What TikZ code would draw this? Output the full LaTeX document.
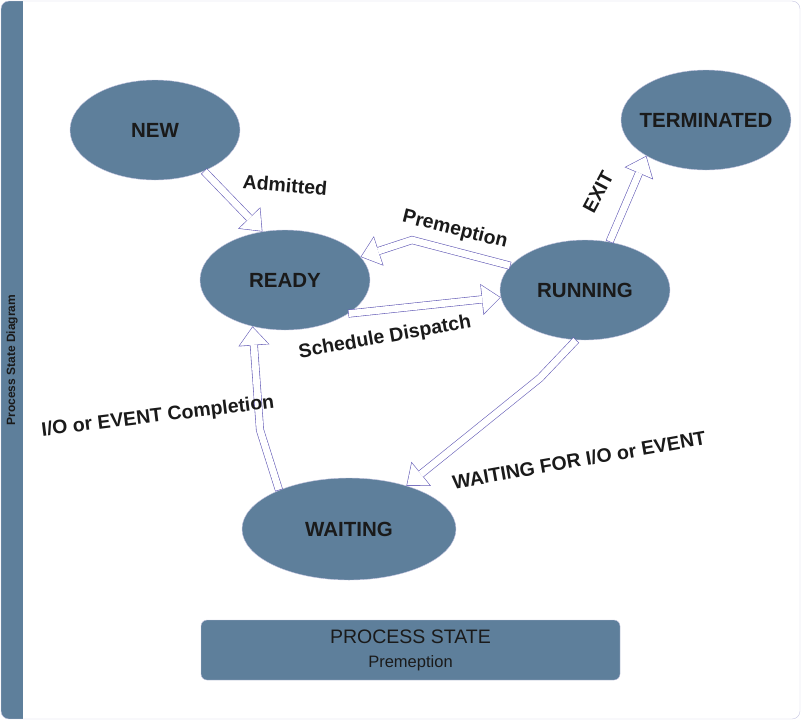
\documentclass[tikz,border=0pt]{standalone}
\usepackage{fontspec}
\setmainfont{Liberation Sans}
\usetikzlibrary{shapes.geometric,arrows.meta}

\definecolor{slate}{RGB}{94,127,155}
\definecolor{rim}{RGB}{196,196,224}
\definecolor{arrowline}{RGB}{104,96,184}
\definecolor{ink}{RGB}{26,26,26}

% hollow block arrow: purple rim first, white core on top
\newcommand{\hollowarrow}[1]{%
  \draw[arrowrim] #1;
  \draw[arrowcore] #1;}

\begin{document}
\begin{tikzpicture}[x=1pt,y=-1pt,
  state/.style = {draw=rim, line width=0.4pt, fill=slate, ellipse, text=ink, minimum width=170pt, minimum height=100pt, font=\fontsize{20.5}{24}\selectfont\bfseries},
  lbl/.style = {text=ink, font=\fontsize{19.5}{23}\selectfont\bfseries},
  arrowrim/.style = {draw=arrowline, line width=8pt, -{Triangle[width=31pt,length=19pt,line width=0pt]}},
  arrowcore/.style = {draw=white, line width=6.8pt, shorten <=0.6pt, shorten >=0.95pt, -{Triangle[width=28.5pt,length=17.45pt,line width=0pt]}}]
\useasboundingbox (0,0) rectangle (801,721);

% frame and side band
\begin{scope}
\clip[rounded corners=8pt] (1,1) rectangle (800,719);
\fill[slate] (1,1) rectangle (23,719);
\end{scope}
\draw[rim, rounded corners=8pt] (1,1) rectangle (800,719);
\node[rotate=90, text=ink, font=\fontsize{12}{14}\selectfont\bfseries] (band) at (12,360) {Process State Diagram};

% states
\node[state] (new) at (155,130) {NEW};
\node[state] (terminated) at (706,120) {\makebox[0pt]{TERMINATED}};
\node[state] (ready) at (285,280) {READY};
\node[state] (running) at (585,290) {RUNNING};
\node[state, minimum width=214pt, minimum height=102pt] (waiting) at (349,529) {WAITING};

\node[draw=rim, fill=slate, rounded corners=6pt, minimum width=419pt, minimum height=60pt, align=center, text=ink, font=\fontsize{19.5}{24}\selectfont] (legend) at (410.5,650) {PROCESS STATE\\{\fontsize{16.5}{19}\selectfont Premeption}};

% bends
\coordinate (preemptbend) at (412,240);
\coordinate (completebend) at (260,430);
\coordinate (waitbend) at (540,378);

% transitions
\hollowarrow{(new.-40) -- (ready.115)}
\hollowarrow{(running.162) -- (preemptbend) -- (ready.17)}
\hollowarrow{(ready.-28) -- (running.185)}
\hollowarrow{(running.63) -- (terminated.211)}
\hollowarrow{(waiting.151) -- (completebend) -- (ready.235)}
\hollowarrow{(running.260) -- (waitbend) -- (waiting.37.5)}

% labels
\node[lbl, rotate=-5] (admitted) at (285,185) {Admitted};
\node[lbl, rotate=-14] (preemption) at (455,230) {Premeption};
\node[lbl, rotate=10] (dispatch) at (385,338) {Schedule Dispatch};
\node[lbl, rotate=62] (exit) at (598,192) {EXIT};
\node[lbl, rotate=7] (completion) at (158,417) {I/O or EVENT Completion};
\node[lbl, rotate=10] (waitfor) at (579,460) {WAITING FOR I/O or EVENT};
\end{tikzpicture}
\end{document}
